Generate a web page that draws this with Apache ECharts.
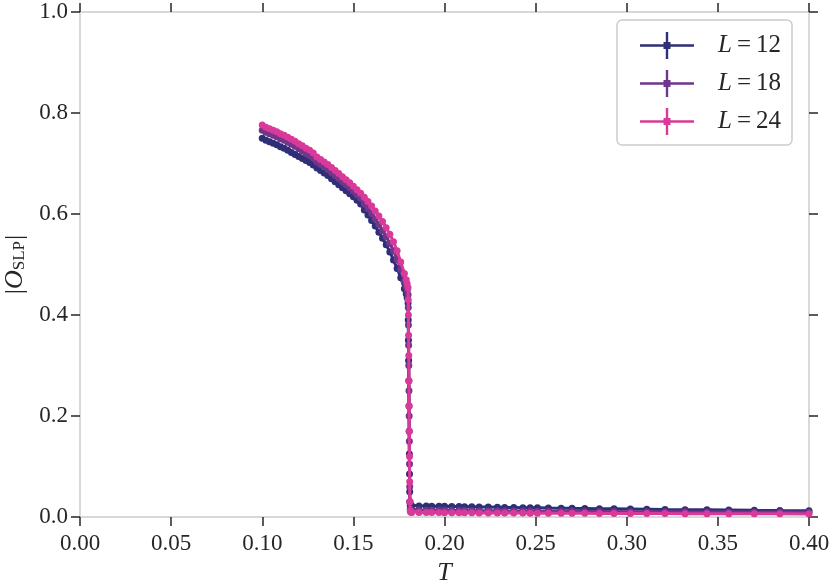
<!DOCTYPE html>
<html>
<head>
<meta charset="utf-8">
<script src="https://cdn.jsdelivr.net/npm/echarts@6/dist/echarts.min.js"></script>
<style>
  html, body { margin: 0; padding: 0; background: #fff; }
  #chart { width: 830px; height: 584px; }
</style>
</head>
<body>
<div id="chart"></div>
<script>
// temperature grid (shared by all three sizes)
const temps = [
  0.100, 0.102, 0.104, 0.106, 0.108, 0.110, 0.112, 0.114, 0.116, 0.118,
  0.120, 0.122, 0.124, 0.126, 0.128, 0.130, 0.132, 0.134, 0.136, 0.138,
  0.140, 0.142, 0.144, 0.146, 0.148, 0.150, 0.152, 0.154, 0.156, 0.158,
  0.160, 0.162, 0.164, 0.166, 0.168, 0.170, 0.172, 0.174, 0.176, 0.178,
  0.179, 0.1795, 0.1800, 0.1801, 0.1802, 0.1803, 0.1804, 0.1805, 0.1806, 0.1807,
  0.1808, 0.1809, 0.1810, 0.1812, 0.1815, 0.182,
  0.186, 0.190, 0.193, 0.197, 0.200, 0.204, 0.208, 0.211, 0.215, 0.219,
  0.224, 0.229, 0.233, 0.238, 0.243, 0.247, 0.251, 0.257, 0.264, 0.270,
  0.277, 0.285, 0.293, 0.302, 0.311, 0.321, 0.332, 0.344, 0.356, 0.370,
  0.384, 0.400
]

const orderL12 = [
  0.750, 0.746, 0.743, 0.740, 0.737, 0.733, 0.730, 0.726, 0.722, 0.718,
  0.714, 0.710, 0.706, 0.702, 0.697, 0.691, 0.686, 0.681, 0.676, 0.670,
  0.664, 0.658, 0.652, 0.646, 0.640, 0.634, 0.627, 0.620, 0.608, 0.598,
  0.587, 0.576, 0.564, 0.552, 0.539, 0.525, 0.509, 0.492, 0.474, 0.452,
  0.442, 0.434, 0.424, 0.390, 0.350, 0.310, 0.270, 0.220, 0.170, 0.125,
  0.085, 0.050, 0.030, 0.024, 0.023, 0.0225,
  0.0220, 0.0218, 0.0215, 0.0213, 0.0211, 0.0208, 0.0206, 0.0204, 0.0201, 0.0199,
  0.0196, 0.0193, 0.0190, 0.0188, 0.0185, 0.0183, 0.0181, 0.0178, 0.0175, 0.0172,
  0.0169, 0.0165, 0.0162, 0.0158, 0.0154, 0.0150, 0.0146, 0.0142, 0.0138, 0.0133,
  0.0129, 0.0125
]

const orderL18 = [
  0.766, 0.762, 0.759, 0.756, 0.753, 0.749, 0.746, 0.742, 0.738, 0.734,
  0.729, 0.725, 0.720, 0.716, 0.711, 0.703, 0.698, 0.693, 0.688, 0.682,
  0.676, 0.670, 0.664, 0.658, 0.652, 0.645, 0.638, 0.631, 0.620, 0.611,
  0.601, 0.590, 0.579, 0.567, 0.555, 0.542, 0.527, 0.510, 0.490, 0.467,
  0.457, 0.449, 0.440, 0.415, 0.380, 0.340, 0.300, 0.250, 0.200, 0.150,
  0.105, 0.060, 0.030, 0.016, 0.0145, 0.0140,
  0.0138, 0.0136, 0.0135, 0.0133, 0.0132, 0.0130, 0.0129, 0.0127, 0.0126, 0.0125,
  0.0123, 0.0122, 0.0120, 0.0119, 0.0118, 0.0117, 0.0116, 0.0114, 0.0113, 0.0112,
  0.0110, 0.0109, 0.0108, 0.0106, 0.0105, 0.0104, 0.0102, 0.0101, 0.0100, 0.0098,
  0.0097, 0.0095
]

const orderL24 = [
  0.776, 0.772, 0.769, 0.766, 0.763, 0.759, 0.756, 0.752, 0.748, 0.744,
  0.739, 0.735, 0.730, 0.726, 0.721, 0.713, 0.708, 0.703, 0.698, 0.692,
  0.686, 0.680, 0.674, 0.668, 0.662, 0.655, 0.648, 0.641, 0.633, 0.625,
  0.616, 0.606, 0.596, 0.585, 0.573, 0.560, 0.545, 0.527, 0.505, 0.482,
  0.470, 0.462, 0.454, 0.430, 0.400, 0.360, 0.320, 0.270, 0.220, 0.170,
  0.120, 0.070, 0.030, 0.012, 0.0095, 0.0090,
  0.0090, 0.0089, 0.0088, 0.0087, 0.0086, 0.0085, 0.0084, 0.0083, 0.0082, 0.0081,
  0.0080, 0.0079, 0.0078, 0.0078, 0.0077, 0.0076, 0.0076, 0.0075, 0.0074, 0.0073,
  0.0072, 0.0071, 0.0070, 0.0069, 0.0068, 0.0067, 0.0066, 0.0065, 0.0064, 0.0063,
  0.0062, 0.0061
]

const seriesNames = ['L=12', 'L=18', 'L=24']
const seriesColors = ['#2e2f78', '#70368a', '#d93a9a']
const xTicks = [0, 0.4, 0.05]
const yTicks = [0, 1, 0.2]

const serif = 'Liberation Serif'
const ink = '#262626'
const frame = '#cccccc'

const chart = echarts.init(document.getElementById('chart'))

const pairUp = (ys) => temps.map((t, i) => [t, ys[i]])

const axisCommon = {
    axisLine: { show: true, onZero: false, lineStyle: { color: frame, width: 1.5 } },
    axisTick: { show: true, inside: false, length: 9, lineStyle: { color: ink, width: 1.5 } },
    splitLine: { show: false }
}

// errorbar-style legend mark: line, vertical bar and dot, as one outline
const legendMark = 'path://M0,12.3L23.5,12.3L23.5,10L25.8,10L25.8,0L28.2,0L28.2,10L30.5,10L30.5,12.3L54,12.3' +
    'L54,14.7L30.5,14.7L30.5,17L28.2,17L28.2,27L25.8,27L25.8,17L23.5,17L23.5,14.7L0,14.7Z'

chart.setOption({
    animation: false,
    grid: { left: 80, right: 21, top: 12, bottom: 67, containLabel: false, outerBoundsMode: 'none' },
    legend: {
        orient: 'vertical',
        left: 617,
        top: 20,
        padding: [12, 11, 10, 23],
        itemWidth: 54,
        itemHeight: 27,
        itemGap: 11,
        backgroundColor: '#fff',
        borderColor: frame,
        borderWidth: 1.5,
        borderRadius: 5,
        icon: legendMark,
        itemStyle: { borderWidth: 0 },
        data: seriesNames,
        formatter: (name) => '{i|L}{e|=}{n|' + name.split('=')[1] + '}',
        textStyle: {
            rich: {
                i: { fontFamily: serif, fontStyle: 'italic', fontSize: 25, color: ink, padding: [0, 0, 0, 19] },
                e: { fontFamily: serif, fontSize: 25, color: ink, padding: [0, 5, 0, 5] },
                n: { fontFamily: serif, fontSize: 25, color: ink }
            }
        }
    },
    xAxis: [
        {
            type: 'value',
            position: 'bottom',
            min: xTicks[0],
            max: xTicks[1],
            interval: xTicks[2],
            ...axisCommon,
            axisLabel: {
                fontFamily: serif,
                fontSize: 23,
                color: ink,
                margin: 15,
                formatter: (v) => v.toFixed(2)
            },
            name: 'T',
            nameLocation: 'middle',
            nameGap: 43,
            nameTextStyle: { fontFamily: serif, fontStyle: 'italic', fontSize: 26, color: ink }
        },
        {
            type: 'value',
            position: 'top',
            min: xTicks[0],
            max: xTicks[1],
            interval: xTicks[2],
            ...axisCommon,
            axisLabel: { show: false }
        }
    ],
    yAxis: [
        {
            type: 'value',
            position: 'left',
            min: yTicks[0],
            max: yTicks[1],
            interval: yTicks[2],
            ...axisCommon,
            axisLabel: {
                fontFamily: serif,
                fontSize: 23,
                color: ink,
                margin: 12,
                formatter: (v) => v.toFixed(1)
            },
            name: '{b||}{o|O}{s|SLP}{b||}',
            nameLocation: 'middle',
            nameRotate: 90,
            nameGap: 46,
            nameTextStyle: {
                rich: {
                    b: { fontFamily: serif, fontSize: 26, color: ink },
                    o: { fontFamily: serif, fontStyle: 'italic', fontSize: 26, color: ink },
                    s: { fontFamily: serif, fontSize: 17, color: ink, padding: [10, 1, 0, 0] }
                }
            }
        },
        {
            type: 'value',
            position: 'right',
            min: yTicks[0],
            max: yTicks[1],
            interval: yTicks[2],
            ...axisCommon,
            axisLabel: { show: false }
        }
    ],
    series: [orderL12, orderL18, orderL24].map((ys, i) => ({
        name: seriesNames[i],
        type: 'line',
        xAxisIndex: 0,
        yAxisIndex: 0,
        data: pairUp(ys),
        symbol: 'circle',
        symbolSize: 7,
        showSymbol: true,
        color: seriesColors[i],
        lineStyle: { color: seriesColors[i], width: 3 },
        itemStyle: { color: seriesColors[i] },
        emphasis: { disabled: true },
        z: 2 + i
    }))
})
</script>
</body>
</html>
